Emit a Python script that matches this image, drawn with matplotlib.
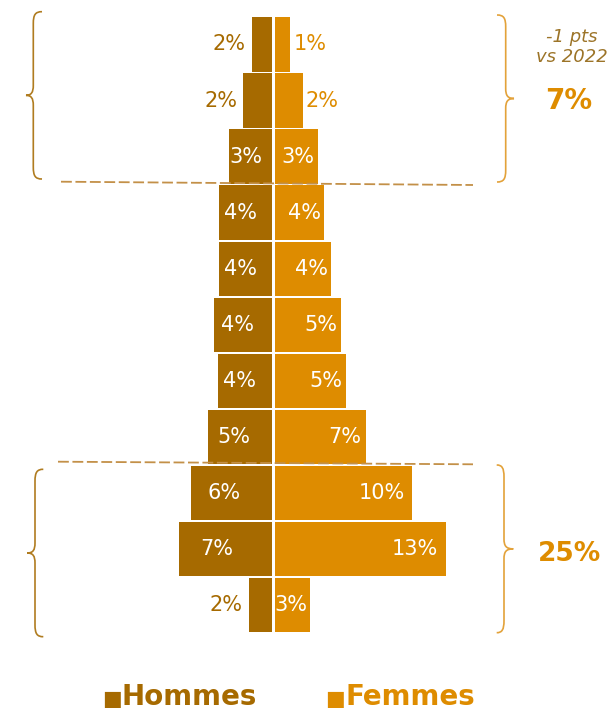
import numpy as np
import matplotlib
matplotlib.use("Agg")
import matplotlib.pyplot as plt
from matplotlib.path import Path
from matplotlib.patches import PathPatch

# donnees (en %), de haut en bas
hommes = [1.52, 2.20, 3.28, 4.02, 3.99, 4.37, 4.07, 4.87, 6.11, 7.02, 1.77]
femmes = [1.18, 2.12, 3.26, 3.76, 4.29, 5.05, 5.42, 6.94, 10.40, 13.00, 2.65]
series = ["Hommes", "Femmes"]
note_haut = "-1 pts\nvs 2022"
total_haut = "7%"
total_bas = "25%"

c_h = "#A66A00"
c_f = "#DE8C00"
c_brace_l = "#B07C20"
c_brace_r = "#E3A23A"
c_dash = "#C39048"

W, H = 613, 713
fig = plt.figure(figsize=(W / 100, H / 100), dpi=100)
ax = fig.add_axes([0, 0, 1, 1])
cx, sc = 273.3, 13.2          # centre (px) et px par %
y0, dy = 44.5, 56.05           # centre 1re ligne (px) et pas
ax.set_xlim(-cx / sc, (W - cx) / sc)
ax.set_ylim((H - y0) / dy, -y0 / dy)
ax.axis("off")

y = np.arange(len(hommes))
gap = 0.1
ax.barh(y, [-v for v in hommes], left=-gap, height=0.97, color=c_h)
ax.barh(y, femmes, left=gap, height=0.97, color=c_f)

fs = 15
for i, v in enumerate(hommes):
    lab = f"{round(v)}%"
    if v < 2.5:
        ax.text(-gap - v - 0.45, i, lab, ha="right", va="center", fontsize=fs, color=c_h)
    else:
        ax.text(-gap - 0.6 * v, i, lab, ha="center", va="center", fontsize=fs, color="white")
for i, v in enumerate(femmes):
    lab = f"{round(v)}%"
    if v < 2.5:
        ax.text(gap + v + 0.25, i, lab, ha="left", va="center", fontsize=fs, color=c_f)
    else:
        ax.text(gap + v - (0.04 * v + 0.1), i, lab, ha="right", va="center", fontsize=fs, color="white")

# overlay en pixels pour les annotations
ov = fig.add_axes([0, 0, 1, 1])
ov.set_xlim(0, W)
ov.set_ylim(H, 0)
ov.axis("off")
ov.patch.set_alpha(0)

for (xa, ya, xb, yb) in [(61, 181.7, 473, 185), (58, 461.7, 473, 464.3)]:
    ov.plot([xa, xb], [ya, yb], color=c_dash, lw=1.3, linestyle=(0, (6, 2)))


def brace(xl, xt, xe, ya, yb, color):
    ym = (ya + yb) / 2
    s = np.sign(xe - xl)
    verts = [(xe, ya), (xl + s * 2, ya), (xl, ya + 3), (xl, ya + 12),
             (xl, ym - 10),
             (xl, ym - 3), (xl - s * 2, ym), (xt, ym),
             (xl - s * 2, ym), (xl, ym + 3), (xl, ym + 10),
             (xl, yb - 12),
             (xl, yb - 3), (xl + s * 2, yb), (xe, yb)]
    codes = [Path.MOVETO, Path.CURVE4, Path.CURVE4, Path.CURVE4,
             Path.LINETO,
             Path.CURVE4, Path.CURVE4, Path.CURVE4,
             Path.CURVE4, Path.CURVE4, Path.CURVE4,
             Path.LINETO,
             Path.CURVE4, Path.CURVE4, Path.CURVE4]
    ov.add_patch(PathPatch(Path(verts, codes), fill=False, edgecolor=color, lw=1.2))


brace(33.3, 26, 42, 11.7, 179, c_brace_l)
brace(35, 27.3, 43.3, 469.3, 636.7, c_brace_l)
brace(505.7, 514, 497, 15, 182, c_brace_r)
brace(504, 513.3, 496.7, 465, 632.7, c_brace_r)

ov.text(572, 47, note_haut, ha="center", va="center", fontsize=13, style="italic",
        color="#9C7428", linespacing=1.15)
ov.text(569, 101, total_haut, ha="center", va="center", fontsize=20, fontweight="bold", color=c_f)
ov.text(569, 554, total_bas, ha="center", va="center", fontsize=19, fontweight="bold", color=c_f)

# legende
for xs, name, col in [(103, series[0], c_h), (326, series[1], c_f)]:
    ov.text(xs - 1, 705, "■", ha="left", va="baseline", fontsize=15, color=col)
    ov.text(xs + 19, 705, name, ha="left", va="baseline", fontsize=20, fontweight="bold", color=col)

fig.savefig("out.png", dpi=100)
